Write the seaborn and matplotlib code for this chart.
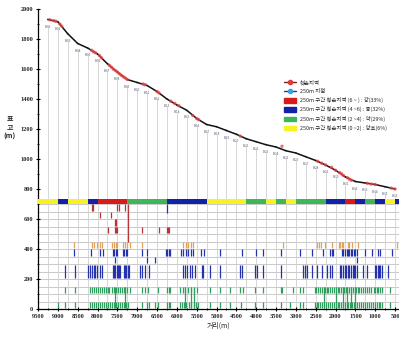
import matplotlib
matplotlib.use("Agg")
import numpy as np
import pandas as pd
import matplotlib.pyplot as plt
import seaborn as sns
from matplotlib.lines import Line2D
from matplotlib.patches import Patch
from matplotlib.ticker import MultipleLocator

# ---------------- data ----------------
dist = [9250, 9000, 8750, 8500, 8250, 8000, 7750, 7500, 7250, 7000, 6750, 6500,
        6250, 6000, 5750, 5500, 5250, 5000, 4750, 4500, 4250, 4000, 3750, 3500,
        3250, 3000, 2750, 2500, 2250, 2000, 1750, 1500, 1250, 1000, 750, 500]
elev = [1930, 1915, 1835, 1770, 1740, 1700, 1635, 1580, 1530, 1510, 1490, 1450,
        1400, 1360, 1325, 1270, 1230, 1215, 1190, 1165, 1135, 1115, 1095, 1080,
        1055, 1040, 1015, 990, 960, 925, 880, 850, 840, 830, 815, 800]
point_labels = ["B-%02d" % (i + 1) for i in range(len(dist))]

damage_x = [9200, 9100, 9050, 8950, 8900, 8150, 8100, 8050, 7950, 7900, 7700, 7650,
            7600, 7550, 7500, 7450, 7400, 7350, 7300, 7250, 6850, 6800, 6500, 6450,
            6150, 6050, 5950, 5600, 5500, 5450, 4400, 3350, 2450, 2350, 2250, 2100,
            2000, 1900, 1850, 1800, 1700, 1650, 1600, 1200, 1100, 1000, 600, 500]
damage_y = [1928, 1922, 1918, 1900, 1885, 1725, 1715, 1708, 1690, 1675, 1625, 1612,
            1598, 1590, 1580, 1568, 1558, 1548, 1540, 1530, 1500, 1495, 1450, 1440,
            1385, 1370, 1355, 1290, 1270, 1262, 1152, 1085, 985, 972, 960, 945,
            925, 910, 902, 890, 875, 865, 858, 838, 833, 830, 806, 800]

band_codes = list("YYBYYBRRRGGGGBBBBYYYYGGYGYGGGBBRBGBYB")
band_start = [9500 - 250 * i for i in range(len(band_codes))]

red_row1 = [8150, 8120, 7510, 7460, 7300]
red_row2 = [7940, 7660]
red_row3 = [7560, 7530]
red_row4 = [7735, 7560, 7530, 7510, 6880, 6450, 6250, 6220, 6190]
orange_row = [8590, 8140, 8080, 8020, 7940, 7890, 7640, 7590, 7540, 7510, 7360, 7310,
              7260, 7180, 6885, 5850, 5770, 5720, 5650, 5590, 3320, 2470, 2420, 2370,
              2265, 2090, 1910, 1880, 1840, 1810, 1690, 1650, 1585, 1430, 450]
blue_row1 = [8590, 8160, 7940, 7860, 7610, 7580, 7540, 7510, 7360, 7320, 7290, 7260,
             6885, 6750, 6270, 6240, 6210, 6180, 5900, 5850, 5780, 5720, 5640, 5590,
             5380, 5320, 4910, 4365, 4000, 3820, 3380, 2895, 2600, 2310, 2140, 2100,
             2060, 1840, 1800, 1760, 1720, 1690, 1650, 1610, 1580, 1540, 1500, 1465,
             1255, 1090, 930, 880, 585]
blue_row2 = [7560, 6750, 6550, 1450]
blue_row3 = [8820, 8570, 8240, 8190, 8150, 8100, 8060, 8020, 7940, 7890, 7610, 7580,
             7550, 7520, 7490, 7460, 7430, 7330, 7300, 7270, 7240, 7210, 6930, 6880,
             6800, 6700, 5850, 5800, 5740, 5670, 5620, 5540, 5370, 5340, 5160, 4910,
             4400, 4365, 4030, 3990, 3820, 3380, 2820, 2770, 2730, 2600, 2475, 2350,
             2220, 2150, 2100, 1890, 1850, 1810, 1770, 1730, 1690, 1650, 1610, 1570,
             1530, 1500, 1465, 1310, 1215, 1005, 970, 935, 900, 870, 835, 680]
green_row1 = [8820, 8570, 8190, 8150, 8100, 8040, 7990, 7940, 7890, 7830, 7780, 7740,
              7700, 7640, 7590, 7540, 7490, 7440, 7390, 7340, 7300, 7250, 7180, 6885,
              6800, 6730, 6475, 6250, 6210, 6170, 5920, 5850, 5800, 5720, 5650, 5570,
              5480, 5160, 4910, 4660, 4400, 4330, 4030, 3820, 3380, 3340, 3070, 2900,
              2820, 2520, 2480, 2440, 2400, 2350, 2300, 2260, 2220, 2180, 2140, 2080,
              2040, 1990, 1940, 1900, 1860, 1820, 1780, 1740, 1700, 1650, 1610, 1560,
              1520, 1480, 1440, 1400, 1360, 1300, 1250, 1200, 1150, 1100, 1040, 1000,
              960, 920, 880, 840, 630]
green_row2 = [8990, 8820, 8570, 8190, 8140, 8090, 8040, 7990, 7940, 7880, 7830, 7780,
              7730, 7680, 7630, 7580, 7530, 7480, 7430, 7380, 7330, 7280, 7230, 6885,
              6750, 6700, 6550, 6475, 6250, 6210, 6170, 5920, 5870, 5810, 5760, 5700,
              5640, 5580, 5520, 5460, 5160, 4910, 4660, 4380, 4030, 3820, 3380, 3150,
              2900, 2820, 2520, 2470, 2430, 2380, 2330, 2280, 2240, 2190, 2150, 2100,
              2050, 2000, 1950, 1900, 1860, 1810, 1760, 1720, 1680, 1630, 1590, 1540,
              1500, 1450, 1400, 1360, 1310, 1260, 1210, 1160, 1110, 1060, 1010, 960,
              910, 870, 830, 630]
green_long = [7560, 7300, 5800, 5650, 5570, 2300, 2000, 1800, 1700, 1600, 1500]

# ---------------- style ----------------
sns.set_theme(style="white")
plt.rcParams["font.family"] = ["Noto Sans CJK KR", "DejaVu Sans"]

band_colors = {"Y": "#f7f224", "B": "#1321a6", "R": "#d91a1a", "G": "#3fb55a"}
c_red_tick = "#b8323a"
c_orange = "#e3a25a"
c_blue = "#2433ad"
c_green = "#2e9e5e"

fig = plt.figure(figsize=(3.99, 3.42), dpi=100)
ax = fig.add_axes([38 / 399, 33 / 342, 361 / 399, 300 / 342])

# grid lines in the lower (barcode) area
for yv in range(50, 701, 50):
    ax.axhline(yv, color="#c0c0c0", lw=0.6, zorder=0)
# vertical drop lines at each 250 m point
for xv, ev in zip(dist, elev):
    ax.vlines(xv, 0, ev - 45, color="#d0d0d0", lw=0.6, zorder=0)

# barcode rows
rows = [
    (red_row1, 655, 698, c_red_tick),
    (red_row2, 605, 648, c_red_tick),
    (red_row3, 555, 598, c_red_tick),
    (red_row4, 505, 548, c_red_tick),
    (orange_row, 405, 448, c_orange),
    (blue_row1, 355, 398, c_blue),
    (blue_row2, 305, 348, c_blue),
    (blue_row3, 210, 292, c_blue),
    (green_row1, 105, 148, c_green),
    (green_row2, 5, 48, c_green),
    (green_long, 5, 148, c_green),
]
for xs, y0, y1, col in rows:
    ax.vlines(xs, y0, y1, color=col, lw=0.9, zorder=2)
ax.vlines([7230], 450, 698, color=c_red_tick, lw=0.9, zorder=2)
ax.vlines([6250], 640, 698, color=c_blue, lw=0.9, zorder=2)

# colour band
ax.bar([s - 125 for s in band_start], 34, bottom=697, width=250,
       color=[band_colors[c] for c in band_codes], linewidth=0, zorder=3)

# profile
prof = pd.DataFrame({"dist": dist, "elev": elev})
sns.lineplot(data=prof, x="dist", y="elev", color="#111111", lw=1.1, ax=ax,
             zorder=4, sort=False)
dmg = pd.DataFrame({"dist": damage_x, "elev": damage_y})
sns.scatterplot(data=dmg, x="dist", y="elev", color="#e84848", s=6, alpha=0.75,
                edgecolor="none", ax=ax, zorder=5)
sns.scatterplot(data=prof, x="dist", y="elev", color="#3fa0e0", s=2,
                edgecolor="none", ax=ax, zorder=3)
for xv, ev, lab in zip(dist, elev, point_labels):
    ax.text(xv, ev - 35, lab, fontsize=2.2, color="#5a5a7a", ha="center",
            va="top", zorder=4)

# axes
ax.set_xlim(9500, 400)
ax.set_ylim(0, 2000)
ax.set_xticks(list(range(9500, 399, -500)))
ax.xaxis.set_minor_locator(MultipleLocator(250))
ax.set_yticks(list(range(0, 2001, 200)))
ax.yaxis.set_minor_locator(MultipleLocator(100))
ax.tick_params(axis="both", which="major", direction="inout", length=3,
               width=0.8, color="black", pad=2)
ax.tick_params(axis="both", which="minor", direction="inout", length=2,
               width=0.6, color="black")
ax.tick_params(bottom=True, left=True, which="both")
for lab in ax.get_xticklabels() + ax.get_yticklabels():
    lab.set_fontfamily("Liberation Serif")
    lab.set_fontweight("bold")
    lab.set_fontsize(4.6)
for sp in ["top", "right"]:
    ax.spines[sp].set_visible(False)
for sp in ["left", "bottom"]:
    ax.spines[sp].set_color("black")
    ax.spines[sp].set_linewidth(0.9)
ax.set_xlabel("거리(m)", fontsize=5, labelpad=2)
ax.set_ylabel("")
for txt, ypx in [("표", 118), ("고", 127), ("(m)", 136)]:
    fig.text(10 / 399, 1 - ypx / 342, txt, fontsize=5, ha="center",
             va="center", fontweight="bold")

# legend
handles = [
    Line2D([], [], color="#7a1c1c", lw=1, marker="o", markersize=3,
           markerfacecolor="#e03a3a", markeredgecolor="#e03a3a"),
    Line2D([], [], color="#1f3f7f", lw=1, marker="o", markersize=3,
           markerfacecolor="#3fa0e0", markeredgecolor="#3fa0e0"),
    Patch(color=band_colors["R"]),
    Patch(color=band_colors["B"]),
    Patch(color=band_colors["G"]),
    Patch(color=band_colors["Y"]),
]
labels = ["훼손지역", "250m 지점",
          "250m 구간 훼손지역 (6 ~ ) : 강(33%)",
          "250m 구간 훼손지역 (4 ~6) : 중(32%)",
          "250m 구간 훼손지역 (2 ~4) : 약(29%)",
          "250m 구간 훼손지역 (0 ~2) : 양호(6%)"]
fig.legend(handles, labels, loc="upper left",
           bbox_to_anchor=(284 / 399, 1 - 80 / 342), frameon=False,
           fontsize=3.9, handlelength=2.2, handleheight=0.9, labelspacing=0.6,
           handletextpad=0.7, borderpad=0, borderaxespad=0)

fig.savefig("out.png", dpi=100)
